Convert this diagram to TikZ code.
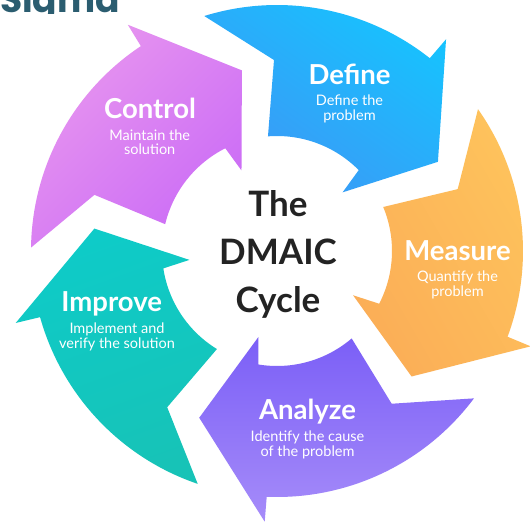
\documentclass[tikz,border=0pt]{standalone}
\usepackage{fontspec}
\setmainfont{Lato}
\newfontfamily\sigmafont{Poppins}
\definecolor{defA}{HTML}{16C3FE}
\definecolor{defB}{HTML}{3D97F6}
\definecolor{meaA}{HTML}{FEC35C}
\definecolor{meaB}{HTML}{FBAE57}
\definecolor{anaA}{HTML}{7B5FF7}
\definecolor{anaB}{HTML}{A68CF9}
\definecolor{impA}{HTML}{0ECBC8}
\definecolor{impB}{HTML}{17C3B7}
\definecolor{conA}{HTML}{E896EF}
\definecolor{conB}{HTML}{CB6CF6}
\definecolor{centertext}{HTML}{232323}
\definecolor{sigmacol}{HTML}{2B5D70}
\tikzset{
  arrowshape/.style={insert path={
    ({107.2+#1}:246pt) arc[start angle={107.2+#1}, end angle={51.6+#1}, radius=246pt]
    -- ({51.4+#1}:271pt) -- ({29+#1}:184pt) -- ({41.8+#1}:88pt) -- ({44.7+#1}:115pt)
    arc[start angle={44.7+#1}, end angle={94.5+#1}, radius=115pt]
    -- ({90.9+#1}:191pt) -- cycle}},
  title/.style={text=white, inner sep=0pt, anchor=base, font=\fontsize{27.5}{30}\selectfont\bfseries},
  sub/.style={text=white, inner sep=0pt, anchor=base, align=center, font=\fontsize{14.5}{14.7}\selectfont},
  centerlbl/.style={text=centertext, inner sep=0pt, anchor=base, align=center, font=\fontsize{35}{48}\selectfont\bfseries},
  sigmalbl/.style={text=sigmacol, inner sep=0pt, anchor=base west, font=\sigmafont\fontsize{36}{40}\selectfont\bfseries}
}
\begin{document}
\begin{tikzpicture}
\useasboundingbox (-277pt,-274pt) rectangle (253pt,251pt);
\fill[white] (-277pt,-274pt) rectangle (253pt,251pt);
\begin{scope}
  \clip (-277pt,251pt) rectangle (253pt,237.5pt);
  \node[sigmalbl] (sigma) at (-277pt,238pt) {Sigma};
\end{scope}
% arrows
\shade[arrowshape=0, top color=defA, bottom color=defB, shading angle=-35];
\shade[arrowshape=288, top color=meaA, bottom color=meaB, shading angle=-60];
\shade[arrowshape=216, top color=anaA, bottom color=anaB];
\shade[arrowshape=144, top color=impA, bottom color=impB, shading angle=20];
\shade[arrowshape=72, top color=conA, bottom color=conB, shading angle=45];
% labels (multi-line nodes are anchored at the baseline of their last line)
\node[title] (deft) at (72.5pt,166pt) {Define};
\node[sub] (defs) at (72.5pt,130.6pt) {Define the\\problem};
\node[title] (meat) at (180.5pt,-9pt) {Measure};
\node[sub] (meas) at (180.5pt,-45.4pt) {Quantify the\\problem};
\node[title] (anat) at (30.5pt,-168pt) {Analyze};
\node[sub] (anas) at (30.5pt,-205.4pt) {Identify the cause\\of the problem};
\node[title] (impt) at (-165.3pt,-60.7pt) {Improve};
\node[sub] (imps) at (-160pt,-97pt) {Implement and\\verify the solution};
\node[title] (cont) at (-127pt,132.7pt) {Control};
\node[sub] (cons) at (-127.3pt,96.3pt) {Maintain the\\solution};
\node[centerlbl] (center) at (1pt,-61.5pt) {The\\DMAIC\\Cycle};
\end{tikzpicture}
\end{document}
